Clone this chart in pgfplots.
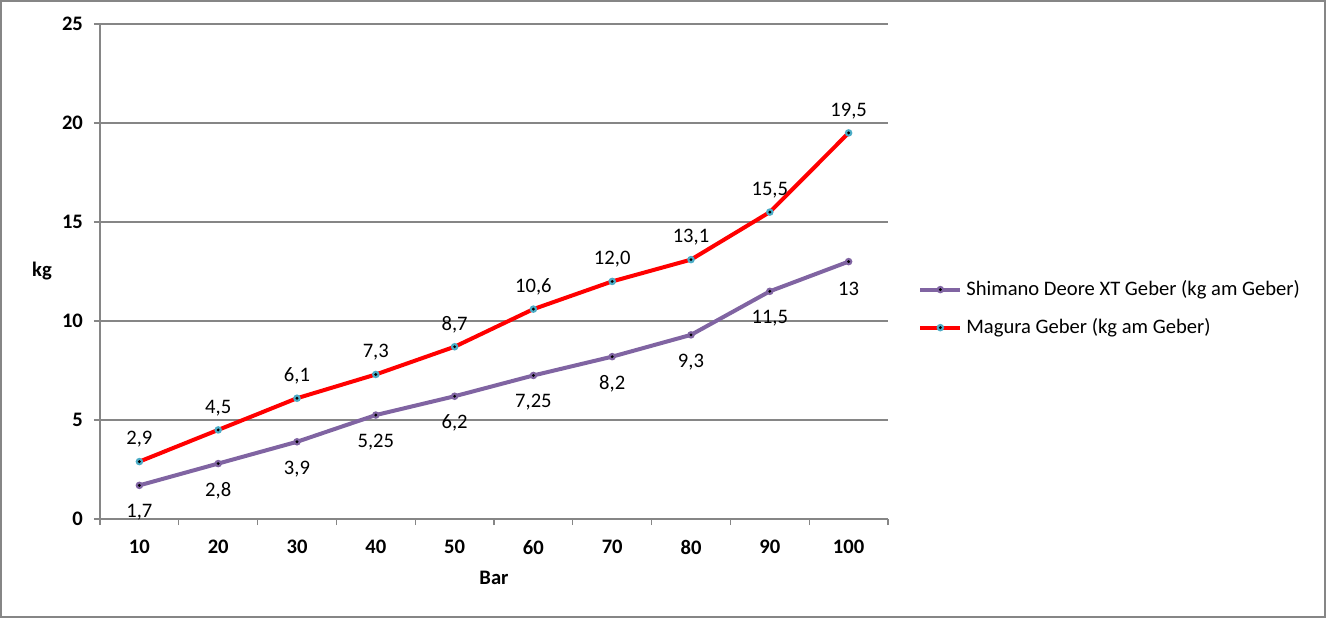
\documentclass[border=0pt]{standalone}
\usepackage{pgfplots}
\usepackage{pgfplotstable}
\pgfplotsset{compat=1.18}
\usepackage{fontspec}
\setmainfont{Carlito}
\definecolor{shim}{HTML}{8064A2}
\definecolor{mag}{HTML}{FF0000}
\definecolor{cyanm}{HTML}{4BACC6}
\definecolor{axgray}{HTML}{868686}
\pgfdeclareplotmark{dotc}{%
  \pgfpathcircle{\pgfpointorigin}{\pgfplotmarksize}\pgfusepathqfill
  \pgfscope
  \pgfsetfillcolor{black}%
  \pgfpathcircle{\pgfpointorigin}{0.42\pgfplotmarksize}\pgfusepathqfill
  \endpgfscope}
\pgfplotstableread{
x y lab
10 1.7 {1,7}
20 2.8 {2,8}
30 3.9 {3,9}
40 5.25 {5,25}
50 6.2 {6,2}
60 7.25 {7,25}
70 8.2 {8,2}
80 9.3 {9,3}
90 11.5 {11,5}
100 13 {13}
}\shimano
\pgfplotstableread{
x y lab
10 2.9 {2,9}
20 4.5 {4,5}
30 6.1 {6,1}
40 7.3 {7,3}
50 8.7 {8,7}
60 10.6 {10,6}
70 12.0 {12,0}
80 13.1 {13,1}
90 15.5 {15,5}
100 19.5 {19,5}
}\magura
\newcommand\fs{\fontsize{10.3}{12}\selectfont}
\newcommand\fb{\fontsize{10.3}{12}\selectfont\bfseries}
\begin{document}
\begin{tikzpicture}
\draw[axgray, line width=1pt] (0.5pt,0.5pt) rectangle (662.5pt,308.5pt);
\begin{axis}[
  at={(50pt,49.5pt)}, anchor=south west,
  scale only axis, width=394pt, height=247.5pt,
  xmin=5, xmax=105, ymin=0, ymax=25,
  axis x line*=bottom, axis y line*=left,
  axis line style={draw=axgray, line width=0.6pt, -},
  xtick={5,15,...,105},
  xticklabels={10,20,30,40,50,60,70,80,90,100},
  x tick label as interval,
  ytick={0,5,...,25},
  ymajorgrids, grid style={draw=axgray, line width=0.6pt},
  tick align=outside, major tick length=3pt,
  tick style={draw=axgray, line width=0.6pt},
  /pgf/number format/assume math mode=true,
  ticklabel style={font=\fb},
  xticklabel style={yshift=-4pt},
  yticklabel style={xshift=-2pt},
  xlabel={Bar}, ylabel={kg},
  every axis x label/.style={at={(axis description cs:0.5,0)}, anchor=center, yshift=-29.5pt, font=\fb},
  every axis y label/.style={at={(axis description cs:0,0.5)}, anchor=center, xshift=-29pt, font=\fb},
  clip=false,
  legend style={at={(axis description cs:1.038,0.425)}, anchor=west, draw=none, fill=none, font=\fs, row sep=6pt, inner sep=0pt},
  legend cell align=left,
  legend image code/.code={\draw[mark repeat=2,mark phase=2,#1] plot coordinates {(0pt,0pt) (10pt,0pt) (20pt,0pt)};},
  point meta=explicit symbolic,
  nodes near coords,
]
\addplot[shim, line width=2pt, mark=dotc, mark size=1.9pt, mark options={fill=shim},
  every node near coord/.append style={anchor=center, yshift=-13.5pt, font=\fs, text=black}]
  table[x=x, y=y, meta=lab]{\shimano};
\addlegendentry{Shimano Deore XT Geber (kg am Geber)}
\addplot[mag, line width=2pt, mark=dotc, mark size=1.9pt, mark options={fill=cyanm},
  every node near coord/.append style={anchor=center, yshift=11pt, font=\fs, text=black}]
  table[x=x, y=y, meta=lab]{\magura};
\addlegendentry{Magura Geber (kg am Geber)}
\end{axis}
\end{tikzpicture}
\end{document}
